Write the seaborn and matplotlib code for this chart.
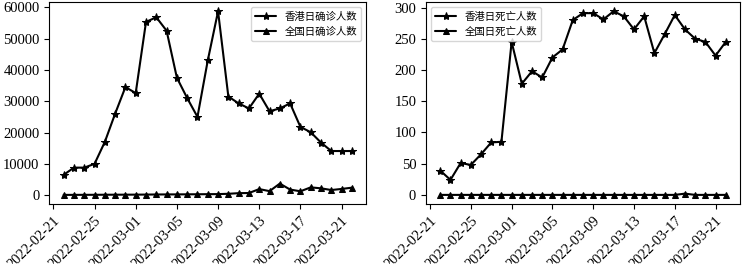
import matplotlib.pyplot as plt
import matplotlib.dates as mdates
from matplotlib.ticker import MultipleLocator
import numpy as np
import pandas as pd
import seaborn as sns

# Daily data, 2022-02-22 .. 2022-03-22
dates = pd.date_range('2022-02-22', '2022-03-22', freq='D')

hk_cases = [6500, 8800, 8800, 10000, 17000, 26000, 34500, 32600, 55300,
            56800, 52500, 37500, 31000, 25000, 43000, 58700, 31500, 29300,
            27700, 32400, 26800, 27700, 29300, 21800, 20100, 16800, 14100,
            14100, 14100]
cn_cases = [100, 110, 120, 130, 150, 160, 170, 180, 200, 230, 250, 260,
            280, 300, 330, 350, 450, 650, 700, 1950, 1300, 3700, 1800, 1250,
            2500, 2200, 1650, 2000, 2400]

hk_deaths = [39, 24, 51, 48, 65, 84, 85, 245, 178, 198, 188, 220, 233, 280,
             291, 291, 281, 294, 286, 265, 286, 227, 257, 288, 265, 250, 245,
             223, 245]
cn_deaths = [0, 0, 0, 0, 0, 0, 0, 0, 0, 0, 0, 0, 0, 0, 0, 0, 0, 0, 0, 0, 0,
             0, 0, 0, 2, 0, 0, 0, 0]

tick_dates = pd.date_range('2022-02-21', periods=8, freq='4D')

df = pd.DataFrame({'date': dates, 'hk_cases': hk_cases, 'cn_cases': cn_cases,
                   'hk_deaths': hk_deaths, 'cn_deaths': cn_deaths})

sns.set_style('ticks', {'axes.edgecolor': 'black', 'xtick.color': 'black',
                        'ytick.color': 'black', 'text.color': 'black',
                        'axes.labelcolor': 'black'})
plt.rcParams['font.family'] = ['Liberation Serif', 'Noto Sans CJK SC']
plt.rcParams['axes.unicode_minus'] = False

fig = plt.figure(figsize=(7.46, 2.64), dpi=100)
ax1 = fig.add_axes([0.066, 0.227, 0.425, 0.765])
ax2 = fig.add_axes([0.571, 0.227, 0.421, 0.765])

panels = [
    (ax1, 'hk_cases', 'cn_cases', '香港日确诊人数', '全国日确诊人数',
     'upper right', 10000),
    (ax2, 'hk_deaths', 'cn_deaths', '香港日死亡人数', '全国日死亡人数',
     'upper left', 50),
]

for ax, col_hk, col_cn, lab_hk, lab_cn, loc, ystep in panels:
    sns.lineplot(data=df, x='date', y=col_hk, ax=ax, color='black',
                 marker='*', markersize=6, markeredgecolor='black',
                 linewidth=1.5, label=lab_hk)
    sns.lineplot(data=df, x='date', y=col_cn, ax=ax, color='black',
                 marker='^', markersize=5, markeredgecolor='black',
                 linewidth=1.5, label=lab_cn)
    ax.set_xticks(tick_dates)
    ax.xaxis.set_major_formatter(mdates.DateFormatter('%Y-%m-%d'))
    ax.yaxis.set_major_locator(MultipleLocator(ystep))
    ax.tick_params(axis='x', labelsize=10.5, rotation=45)
    ax.tick_params(axis='y', labelsize=10.5)
    for lbl in ax.get_xticklabels():
        lbl.set_ha('right')
        lbl.set_rotation_mode('anchor')
    ax.set_xlabel('')
    ax.set_ylabel('')
    for s in ax.spines.values():
        s.set_visible(True)
        s.set_linewidth(0.8)
    ax.legend(loc=loc, frameon=True, fontsize=7.5)

plt.savefig('out.png', dpi=100)
